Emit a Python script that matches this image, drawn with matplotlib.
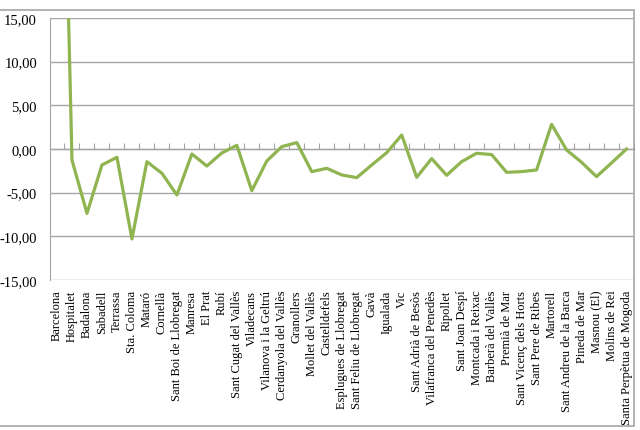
import matplotlib
matplotlib.use("Agg")
import matplotlib.pyplot as plt
from matplotlib.ticker import FuncFormatter
from matplotlib.patches import Rectangle

# municipalities (x axis)
municipis = ["Barcelona", "Hospitalet", "Badalona", "Sabadell", "Terrassa",
             "Sta. Coloma", "Mataró", "Cornellà", "Sant Boi de Llobregat",
             "Manresa", "El Prat", "Rubí", "Sant Cugat del Vallès",
             "Viladecans", "Vilanova i la Geltrú", "Cerdanyola del Vallès",
             "Granollers", "Mollet del Vallès", "Castelldefels",
             "Esplugues de Llobregat", "Sant Feliu de Llobregat", "Gavà",
             "Igualada", "Vic", "Sant Adrià de Besòs",
             "Vilafranca del Penedès", "Ripollet", "Sant Joan Despí",
             "Montcada i Reixac", "Barberà del Vallès", "Premià de Mar",
             "Sant Vicenç dels Horts", "Sant Pere de Ribes", "Martorell",
             "Sant Andreu de la Barca", "Pineda de Mar", "Masnou (El)",
             "Molins de Rei", "Santa Perpètua de Mogoda"]

# values (Barcelona goes off the top)
valors = [70.0, -1.26, -7.37, -1.83, -0.95,
          -10.3, -1.45, -2.78, -5.27,
          -0.57, -1.95, -0.45, 0.42,
          -4.77, -1.37, 0.27,
          0.73, -2.59, -2.21,
          -2.97, -3.28, -1.83,
          -0.42, 1.6, -3.24,
          -1.1, -3.01, -1.45,
          -0.49, -0.64, -2.67,
          -2.59, -2.4, 2.83,
          -0.11, -1.52, -3.16,
          -1.6, 0.0]

yticks = [-15, -10, -5, 0, 5, 10, 15]

plt.rcParams['font.family'] = ['Liberation Serif', 'DejaVu Serif']

fig = plt.figure(figsize=(6.4, 4.31), dpi=100)
ax = fig.add_axes([49.5 / 640, 1 - 281 / 431, (634 - 49.5) / 640, (281 - 19) / 431])

grid_col = '#A6A6A6'
x = list(range(len(municipis)))
ax.plot(x, valors, color='#8FB450', lw=2.3, solid_joinstyle='round', zorder=3)

ax.set_xlim(-0.5, len(municipis) - 0.5)
ax.set_ylim(-15, 15)
ax.set_yticks(yticks)
ax.yaxis.set_major_formatter(FuncFormatter(lambda v, p: f"{v:.2f}".replace('.', ',')))
ax.tick_params(axis='y', length=0, pad=9, labelsize=10.5)
ax.grid(axis='y', color=grid_col, lw=1)
ax.set_axisbelow(True)

ax.set_xticks(x)
ax.set_xticklabels(municipis, rotation=90, fontsize=9, va='top', ha='center')
ax.tick_params(axis='x', length=0, pad=7)

for s in ['top', 'right', 'bottom']:
    ax.spines[s].set_visible(False)
ax.spines['left'].set_color(grid_col)

# category axis crossing at zero with tick marks between categories
sec = ax.secondary_xaxis(0.5)
sec.set_xticks([i - 0.5 for i in range(len(municipis) + 1)])
sec.set_xticklabels([])
sec.tick_params(axis='x', direction='out', length=4, color=grid_col)
sec.spines['bottom'].set_color(grid_col)

# chart area border
fig.patches.append(Rectangle((-0.01, 1 - 427 / 431), 634 / 640 + 0.01, (427 - 11) / 431,
                             transform=fig.transFigure, fill=False,
                             edgecolor=grid_col, lw=1.2))

fig.savefig('out.png', dpi=100)
